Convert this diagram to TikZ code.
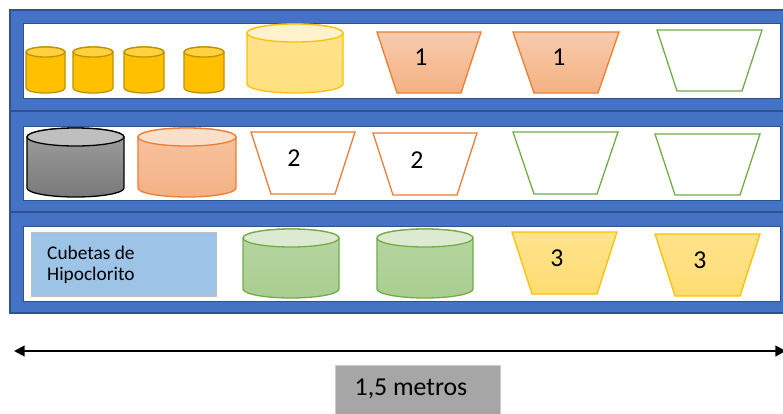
\documentclass[tikz,border=0pt]{standalone}
\usepackage{fontspec}
\setmainfont{Carlito}
\usetikzlibrary{arrows.meta}
\definecolor{azul}{HTML}{4472C4}
\definecolor{azulosc}{HTML}{2F528F}
\definecolor{oro}{HTML}{FFC000}
\definecolor{oroosc}{HTML}{BF9000}
\definecolor{naranja}{HTML}{ED7D31}
\definecolor{verde}{HTML}{70AD47}
\definecolor{celeste}{HTML}{9DC3E6}
\definecolor{gris}{HTML}{A6A6A6}

% cubeta cilindrica: estilo, x0, y0, x1, y1, radio de la tapa
\newcommand{\cubeta}[6]{%
  \draw[#1 cuerpo] (#2,#3+#6) -- (#2,#5-#6)
    arc[start angle=180,end angle=0,x radius={(#4-#2)/2},y radius=#6]
    -- (#4,#3+#6)
    arc[start angle=0,end angle=-180,x radius={(#4-#2)/2},y radius=#6] -- cycle;
  \draw[#1 tapa] ({(#2+#4)/2},#3+#6) ellipse[x radius={(#4-#2)/2},y radius=#6];
}
% bandeja: estilo, x izq, x der, y arriba, y abajo, entrada del fondo
\newcommand{\bandeja}[6]{%
  \draw[#1] (#2,#4) -- (#3,#4) -- (#3-#6,#5) -- (#2+#6,#5) -- cycle;
}

\tikzset{
  estante/.style={fill=azul,draw=azulosc,line width=1.2pt},
  fondo/.style={fill=white,draw=azulosc,line width=0.8pt},
  chica cuerpo/.style={fill=oro,draw=oroosc,line width=1.1pt},
  chica tapa/.style={fill=oro!75!white,draw=oroosc,line width=1.1pt},
  grande cuerpo/.style={top color=oro!45!white,bottom color=oro!50!white,draw=oro,line width=1.1pt},
  grande tapa/.style={fill=oro!20!white,draw=oro,line width=1.1pt},
  negra cuerpo/.style={top color=gray!75,bottom color=gray!95!black,draw=black,line width=1.1pt},
  negra tapa/.style={fill=gray!50,draw=black,line width=1.1pt},
  salmon cuerpo/.style={top color=naranja!45!white,bottom color=naranja!60!white,draw=naranja,line width=1.1pt},
  salmon tapa/.style={fill=naranja!25!white,draw=naranja,line width=1.1pt},
  verde cuerpo/.style={top color=verde!50!white,bottom color=verde!60!white,draw=verde,line width=1.1pt},
  verde tapa/.style={fill=verde!25!white,draw=verde,line width=1.1pt},
  llena/.style={top color=naranja!40!white,bottom color=naranja!60!white,draw=naranja,line width=1.1pt},
  vacia/.style={fill=white,draw=naranja,line width=1.1pt},
  limpia/.style={fill=white,draw=verde,line width=1.1pt},
  amarilla/.style={top color=oro!45!white,bottom color=oro!55!white,draw=oro,line width=1.1pt},
  numero/.style={font=\fontsize{22}{24}\selectfont,inner sep=0pt},
}

\begin{document}
\begin{tikzpicture}[x=0.3mm,y=-0.3mm]
  \clip (0,0) rectangle (783,413);

  % estantes
  \draw[estante] (10,10) rectangle (792,111);
  \draw[estante] (10,111) rectangle (792,212);
  \draw[estante] (10,212) rectangle (792,313);
  \draw[fondo] (23,23) rectangle (780,98);
  \draw[fondo] (23,126) rectangle (780,200);
  \draw[fondo] (23,226) rectangle (780,301);

  % primer nivel
  \cubeta{chica}{26}{47}{65}{93}{5}
  \cubeta{chica}{73}{47}{113}{93}{5}
  \cubeta{chica}{124}{47}{164}{93}{5}
  \cubeta{chica}{184}{47}{224}{93}{5}
  \cubeta{grande}{247}{24}{343}{93}{9}
  \bandeja{llena}{377}{481}{32}{93}{20}
  \bandeja{llena}{513}{619}{32}{93}{21}
  \bandeja{limpia}{657}{762}{30}{91}{20}
  \node[numero] (uno-a) at (421,57) {1};
  \node[numero] (uno-b) at (559,57) {1};

  % segundo nivel
  \cubeta{negra}{27}{128}{124}{197}{9}
  \cubeta{salmon}{138}{128}{236}{197}{9}
  \bandeja{vacia}{251}{355}{132}{194}{20}
  \bandeja{vacia}{373}{477}{133}{195}{20}
  \bandeja{limpia}{513}{618}{132}{194}{21}
  \bandeja{limpia}{655}{760}{134}{195}{20}
  \node[numero] (dos-a) at (294,158) {2};
  \node[numero] (dos-b) at (417,160) {2};

  % tercer nivel
  \draw[fill=celeste,draw=gray!50,line width=0.8pt] (31,232) rectangle (216,296);
  \node[anchor=west,align=left,inner sep=0pt,font=\fontsize{16.5}{18}\selectfont]
    (hipo) at (47,265) {Cubetas de\\Hipoclorito};
  \cubeta{verde}{243}{229}{339}{298}{9}
  \cubeta{verde}{377}{229}{473}{298}{9}
  \bandeja{amarilla}{512}{617}{232}{294}{20}
  \bandeja{amarilla}{655}{760}{234}{296}{20}
  \node[numero] (tres-a) at (557,258) {3};
  \node[numero] (tres-b) at (700,260) {3};

  % medida
  \coordinate (izq) at (14,351);
  \coordinate (der) at (786,351);
  \draw[line width=1.7pt,{Triangle[length=9pt,width=9pt]}-{Triangle[length=9pt,width=9pt]}] (izq) -- (der);
  \draw[fill=gris,draw=gray!40,line width=0.8pt] (335,365) rectangle (500,416);
  \node[numero] (medida) at (411,389) {1,5 metros};
\end{tikzpicture}
\end{document}
